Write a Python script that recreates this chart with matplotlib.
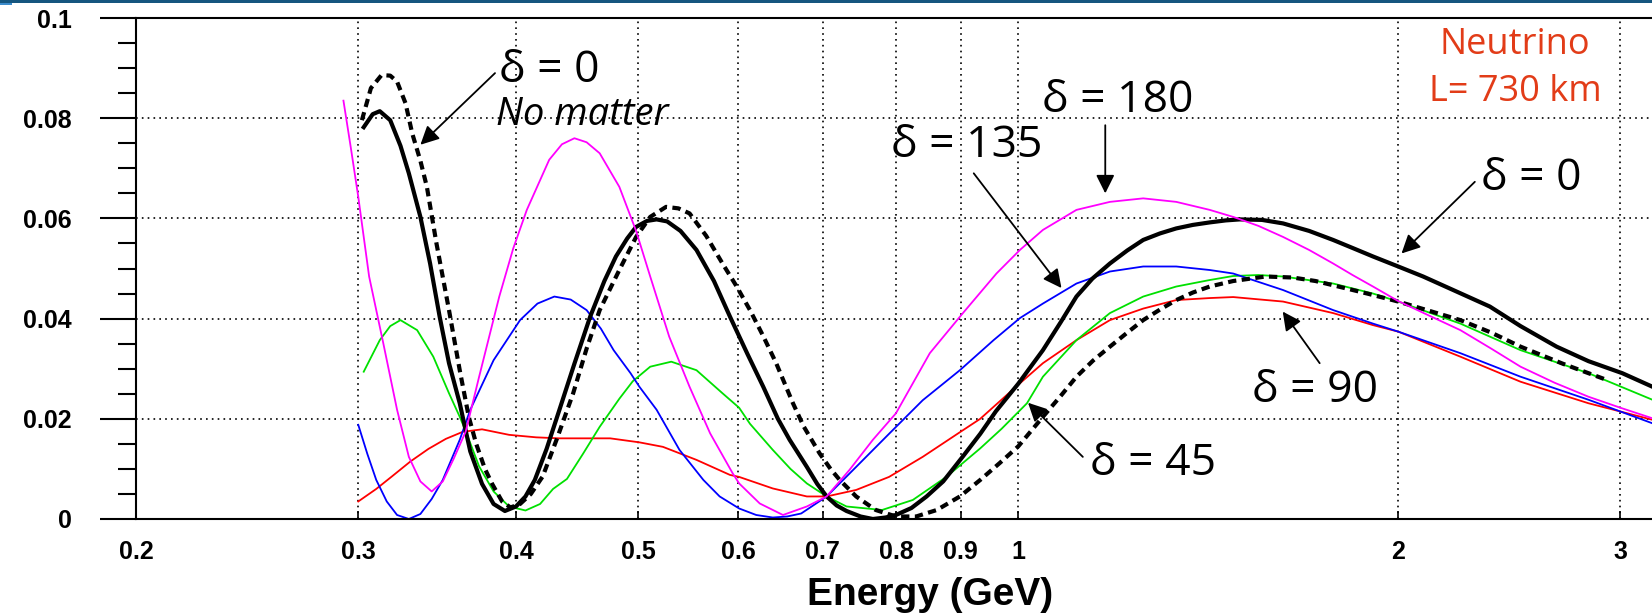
import sys

import matplotlib
matplotlib.use('Agg')
import matplotlib.pyplot as plt
from matplotlib.patches import Rectangle
from matplotlib.ticker import FixedLocator, MultipleLocator

# delta = 0, with matter (thick black)
d0_E = [0.303, 0.308, 0.312, 0.318, 0.324, 0.329, 0.336, 0.342, 0.348, 0.354,
        0.361, 0.368, 0.376, 0.384, 0.392, 0.400, 0.407, 0.414, 0.423, 0.433,
        0.445, 0.458, 0.470, 0.480, 0.490, 0.498, 0.508, 0.517, 0.527, 0.540,
        0.556, 0.574, 0.591, 0.610, 0.628, 0.645, 0.659, 0.680, 0.693, 0.705,
        0.718, 0.731, 0.750, 0.767, 0.785, 0.800, 0.823, 0.846, 0.872, 0.904,
        0.933, 0.960, 1.000, 1.046, 1.080, 1.112, 1.145, 1.182, 1.22, 1.256,
        1.295, 1.334, 1.375, 1.418, 1.46, 1.498, 1.56, 1.621, 1.70, 1.776,
        1.84, 1.91, 2.0, 2.093, 2.22, 2.364, 2.50, 2.67, 2.83, 3.01, 3.18]
d0_P = [0.0782, 0.0808, 0.0814, 0.0796, 0.0745, 0.0690, 0.0603, 0.0510, 0.0404, 0.0311,
        0.0231, 0.0135, 0.0070, 0.0030, 0.0016, 0.0025, 0.0045, 0.0078, 0.0140, 0.0218,
        0.0310, 0.0404, 0.0475, 0.0524, 0.0560, 0.0583, 0.0595, 0.0598, 0.0594, 0.0575,
        0.0537, 0.0475, 0.0404, 0.0330, 0.0264, 0.0200, 0.0158, 0.0104, 0.0070, 0.0045,
        0.0027, 0.0016, 0.0005, 0.0000, 0.0003, 0.0008, 0.0022, 0.0045, 0.0075, 0.0125,
        0.0170, 0.0215, 0.0270, 0.0337, 0.0392, 0.0444, 0.0480, 0.0510, 0.0536, 0.0557,
        0.0570, 0.0580, 0.0587, 0.0592, 0.0596, 0.0598, 0.0597, 0.0590, 0.0575, 0.0557,
        0.0541, 0.0524, 0.0504, 0.0484, 0.0455, 0.0424, 0.0385, 0.0344, 0.0315, 0.0291, 0.0264]

# delta = 0, no matter (black dashed)
vac_E = [0.302, 0.307, 0.313, 0.318, 0.322, 0.327, 0.331, 0.336, 0.340, 0.346,
         0.354, 0.361, 0.367, 0.372, 0.378, 0.383, 0.390, 0.396, 0.403, 0.411,
         0.420, 0.431, 0.444, 0.455, 0.466, 0.483, 0.498, 0.511, 0.526, 0.538,
         0.549, 0.566, 0.583, 0.598, 0.613, 0.628, 0.643, 0.663, 0.676, 0.696,
         0.710, 0.722, 0.744, 0.771, 0.800, 0.830, 0.862, 0.899, 0.933, 0.967,
         1.000, 1.046, 1.080, 1.112, 1.146, 1.182, 1.22, 1.256, 1.295, 1.334,
         1.375, 1.418, 1.48, 1.57, 1.65, 1.72, 1.80, 1.89, 2.0, 2.12,
         2.24, 2.37, 2.5, 2.7, 2.93]
vac_P = [0.0796, 0.0860, 0.0886, 0.0885, 0.0873, 0.0830, 0.0770, 0.0715, 0.0663, 0.0550,
         0.0417, 0.0297, 0.0204, 0.0150, 0.0100, 0.0070, 0.0035, 0.0023, 0.0030, 0.0050,
         0.0085, 0.0160, 0.0251, 0.0340, 0.0417, 0.0497, 0.0563, 0.0603, 0.0623, 0.0620,
         0.0610, 0.0565, 0.0510, 0.0465, 0.0417, 0.0365, 0.0311, 0.0231, 0.0185, 0.0131,
         0.0100, 0.0078, 0.0045, 0.0018, 0.0005, 0.0005, 0.0018, 0.0045, 0.0078, 0.0112,
         0.0145, 0.0204, 0.0245, 0.0284, 0.0316, 0.0344, 0.0372, 0.0397, 0.0418, 0.0437,
         0.0452, 0.0464, 0.0475, 0.0484, 0.0482, 0.0475, 0.0463, 0.0450, 0.0434, 0.0415,
         0.0397, 0.0372, 0.0344, 0.0310, 0.0277]

# delta = 180 (magenta)
d180_E = [0.292, 0.296, 0.300, 0.306, 0.314, 0.322, 0.329, 0.336, 0.343, 0.350,
          0.357, 0.365, 0.374, 0.388, 0.398, 0.408, 0.425, 0.435, 0.445, 0.455,
          0.466, 0.483, 0.498, 0.511, 0.529, 0.549, 0.570, 0.594, 0.601, 0.624,
          0.651, 0.680, 0.705, 0.735, 0.767, 0.800, 0.851, 0.904, 0.961, 1.003,
          1.046, 1.112, 1.182, 1.256, 1.334, 1.418, 1.48, 1.55, 1.621, 1.70,
          1.776, 1.84, 1.91, 2.0, 2.12, 2.24, 2.37, 2.5, 2.66, 2.83, 3.0, 3.18]
d180_P = [0.0835, 0.0740, 0.0643, 0.0484, 0.0351, 0.0218, 0.0124, 0.0075, 0.0055, 0.0075,
          0.0120, 0.0175, 0.0284, 0.0444, 0.0540, 0.0617, 0.0717, 0.0748, 0.0760, 0.0752,
          0.0730, 0.0663, 0.0575, 0.0484, 0.0364, 0.0264, 0.0171, 0.0091, 0.0071, 0.0031,
          0.0008, 0.0025, 0.0045, 0.0098, 0.0158, 0.0211, 0.0331, 0.0411, 0.0490, 0.0537,
          0.0577, 0.0617, 0.0633, 0.0640, 0.0633, 0.0617, 0.0603, 0.0585, 0.0563, 0.0537,
          0.0510, 0.0487, 0.0464, 0.0435, 0.0405, 0.0377, 0.0340, 0.0304, 0.0272, 0.0244, 0.0222, 0.0201]

# delta = 135 (blue)
d135_E = [0.300, 0.305, 0.310, 0.316, 0.322, 0.329, 0.336, 0.343, 0.350, 0.361,
          0.368, 0.384, 0.403, 0.416, 0.429, 0.442, 0.455, 0.467, 0.478, 0.493,
          0.501, 0.517, 0.539, 0.563, 0.580, 0.601, 0.620, 0.639, 0.656, 0.673,
          0.705, 0.744, 0.790, 0.840, 0.899, 0.956, 1.003, 1.046, 1.112, 1.182,
          1.256, 1.334, 1.418, 1.48, 1.621, 1.776, 1.91, 2.0, 2.24, 2.5, 2.83, 3.18]
d135_P = [0.0188, 0.0130, 0.0078, 0.0035, 0.0008, 0.0000, 0.0010, 0.0040, 0.0078, 0.0158,
          0.0218, 0.0317, 0.0397, 0.0430, 0.0444, 0.0438, 0.0417, 0.0380, 0.0337, 0.0291,
          0.0264, 0.0218, 0.0138, 0.0078, 0.0045, 0.0021, 0.0008, 0.0003, 0.0005, 0.0011,
          0.0045, 0.0104, 0.0170, 0.0237, 0.0297, 0.0357, 0.0401, 0.0430, 0.0470, 0.0494,
          0.0504, 0.0504, 0.0497, 0.0490, 0.0457, 0.0417, 0.0390, 0.0374, 0.0331, 0.0284, 0.0238, 0.0191]

# delta = 45 (green)
d45_E = [0.303, 0.312, 0.318, 0.324, 0.334, 0.344, 0.354, 0.361, 0.365, 0.374,
         0.384, 0.395, 0.407, 0.418, 0.428, 0.439, 0.452, 0.466, 0.483, 0.495,
         0.511, 0.531, 0.556, 0.583, 0.601, 0.613, 0.639, 0.660, 0.680, 0.705,
         0.731, 0.780, 0.825, 0.877, 0.933, 0.970, 1.016, 1.046, 1.112, 1.182,
         1.256, 1.334, 1.418, 1.48, 1.55, 1.621, 1.776, 1.91, 2.0, 2.24, 2.5, 2.83, 3.18]
d45_P = [0.0294, 0.0357, 0.0385, 0.0397, 0.0377, 0.0324, 0.0251, 0.0204, 0.0175, 0.0105,
         0.0055, 0.0025, 0.0017, 0.0030, 0.0060, 0.0080, 0.0130, 0.0184, 0.0240, 0.0275,
         0.0304, 0.0314, 0.0297, 0.0251, 0.0222, 0.0190, 0.0138, 0.0100, 0.0071, 0.0045,
         0.0025, 0.0018, 0.0038, 0.0084, 0.0141, 0.0180, 0.0231, 0.0284, 0.0357, 0.0411,
         0.0444, 0.0464, 0.0477, 0.0485, 0.0487, 0.0484, 0.0470, 0.0450, 0.0434, 0.0390, 0.0337, 0.0291, 0.0238]

# delta = 90 (red)
d90_E = [0.300, 0.310, 0.319, 0.330, 0.341, 0.352, 0.363, 0.376, 0.395, 0.415,
         0.433, 0.455, 0.475, 0.501, 0.523, 0.556, 0.591, 0.601, 0.639, 0.680,
         0.705, 0.744, 0.790, 0.840, 0.895, 0.933, 0.960, 1.000, 1.046, 1.112,
         1.182, 1.256, 1.334, 1.418, 1.48, 1.621, 1.776, 1.91, 2.0, 2.24, 2.5, 2.83, 3.18]
d90_P = [0.0035, 0.0060, 0.0085, 0.0115, 0.0140, 0.0160, 0.0174, 0.0179, 0.0168, 0.0163,
         0.0161, 0.0161, 0.0161, 0.0153, 0.0144, 0.0118, 0.0088, 0.0084, 0.0061, 0.0045,
         0.0045, 0.0058, 0.0084, 0.0124, 0.0170, 0.0200, 0.0228, 0.0268, 0.0311, 0.0357,
         0.0397, 0.0420, 0.0437, 0.0441, 0.0443, 0.0434, 0.0411, 0.0387, 0.0374, 0.0324, 0.0274, 0.0231, 0.0198]

x_ticks = [0.2, 0.3, 0.4, 0.5, 0.6, 0.7, 0.8, 0.9, 1, 2, 3]
x_labels = ['0.2', '0.3', '0.4', '0.5', '0.6', '0.7', '0.8', '0.9', '1', '2', '3']
y_ticks = [0, 0.02, 0.04, 0.06, 0.08, 0.1]
y_labels = ['0', '0.02', '0.04', '0.06', '0.08', '0.1']

W, H = 1652, 613


def main():
    fig = plt.figure(figsize=(W / 100, H / 100), dpi=100)
    # right end of the frame is cut by the picture edge
    ax = fig.add_axes([136 / W, 1 - 519 / H, 1569 / W, 501 / H])
    ax.set_xscale('log')
    ax.set_xlim(0.2, 3.5)
    ax.set_ylim(0, 0.1)

    thin = 1.3
    ax.plot(d90_E, d90_P, color='#ff0000', lw=thin)
    ax.plot(d45_E, d45_P, color='#00e000', lw=thin)
    ax.plot(d135_E, d135_P, color='#0000ff', lw=thin)
    ax.plot(vac_E, vac_P, color='k', lw=3.0, ls=(0, (2.0, 1.3)))
    ax.plot(d0_E, d0_P, color='k', lw=3.0)
    ax.plot(d180_E, d180_P, color='#ff00ff', lw=thin)

    ax.xaxis.set_major_locator(FixedLocator(x_ticks))
    ax.xaxis.set_minor_locator(FixedLocator([]))
    ax.set_xticks(x_ticks)
    ax.set_xticklabels(x_labels)
    ax.set_yticks(y_ticks)
    ax.set_yticklabels(y_labels)
    ax.yaxis.set_minor_locator(MultipleLocator(0.005))

    for t in ax.get_xticklabels() + ax.get_yticklabels():
        t.set_fontfamily('Liberation Sans')
        t.set_fontweight('bold')
        t.set_fontsize(18)

    ax.tick_params(axis='x', which='major', direction='in', length=6, width=1.2, pad=15)
    ax.tick_params(axis='y', which='major', direction='out', length=26, width=1.5, pad=20)
    ax.tick_params(axis='y', which='minor', direction='out', length=13, width=1.5)

    ax.grid(True, which='major', color='k', lw=1.2, ls=(0, (1, 2.5)))
    for s in ax.spines.values():
        s.set_linewidth(1.5)

    fig.text(930 / W, 1 - 595 / H, 'Energy (GeV)', ha='center', va='center',
             family='Liberation Sans', weight='bold', size=28)

    ann = dict(family='Open Sans', size=32, color='k')
    arrow = dict(arrowstyle='-|>', color='k', lw=1.3, mutation_scale=28,
                 shrinkA=0, shrinkB=0)

    ax.annotate('', xy=(0.336, 0.0747), xytext=(0.385, 0.089), arrowprops=arrow)
    ax.text(0.388, 0.0895, 'δ = 0', ha='left', va='center', **ann)
    ax.text(0.386, 0.0806, 'No matter', ha='left', va='center', family='Open Sans',
            style='italic', size=27.5)

    ax.annotate('', xy=(1.172, 0.065), xytext=(1.172, 0.0786), arrowprops=arrow)
    ax.text(1.198, 0.0835, 'δ = 180', ha='center', va='center', **ann)

    ax.annotate('', xy=(1.082, 0.0461), xytext=(0.922, 0.069), arrowprops=arrow)
    ax.text(0.911, 0.0745, 'δ = 135', ha='center', va='center', **ann)

    ax.annotate('', xy=(2.012, 0.053), xytext=(2.30, 0.0673), arrowprops=arrow)
    ax.text(2.325, 0.068, 'δ = 0', ha='left', va='center', **ann)

    ax.annotate('', xy=(1.62, 0.0414), xytext=(1.733, 0.0311), arrowprops=arrow)
    ax.text(1.718, 0.0255, 'δ = 90', ha='center', va='center', **ann)

    ax.annotate('', xy=(1.018, 0.0232), xytext=(1.125, 0.0124), arrowprops=arrow)
    ax.text(1.139, 0.0110, 'δ = 45', ha='left', va='center', **ann)

    red = '#e23c18'
    fig.text(1515 / W, 1 - 45 / H, 'Neutrino', ha='center', va='center',
             family='Open Sans', size=26, color=red)
    fig.text(1515 / W, 1 - 92 / H, 'L= 730 km', ha='center', va='center',
             family='Open Sans', size=26, color=red)

    # slide header strip
    fig.add_artist(Rectangle((0, 1 - 3 / H), 1, 3 / H, transform=fig.transFigure,
                             color='#15567f', lw=0))
    fig.add_artist(Rectangle((0, 1 - 5 / H), 12 / W, 2 / H, transform=fig.transFigure,
                             color='#3c8ccc', lw=0))

    fig.savefig('out.png', dpi=100)


if __name__ == '__main__':
    sys.exit(main())
